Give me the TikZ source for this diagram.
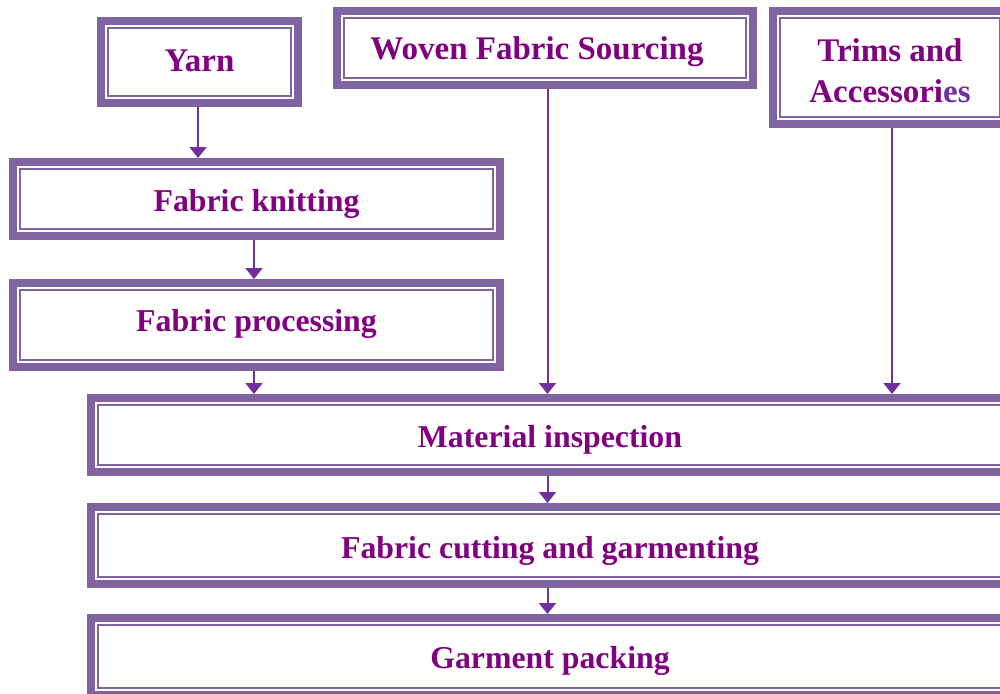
\documentclass[tikz,border=0pt]{standalone}
\usepackage{fontspec}
\setmainfont{Liberation Serif}
\usetikzlibrary{arrows.meta}
\definecolor{boxc}{HTML}{8064A2}
\definecolor{arrowc}{HTML}{7030A0}
\definecolor{textc}{HTML}{800080}
\tikzset{
  stagebox/.style={draw=boxc, line width=8pt, outer sep=4pt, inner sep=0pt, fill=white},
  boxtext/.style={align=center, text=textc, inner sep=0pt,
    font=\fontsize{31.8}{41}\selectfont\bfseries},
  toptext/.style={boxtext, font=\fontsize{33}{41}\selectfont\bfseries},
  innerline/.style={draw=boxc, line width=2pt},
  flow/.style={draw=arrowc, line width=2pt, -{Triangle[width=17pt,length=11pt]}}
}
\newcommand\stageframe[1]{%
  \draw[innerline] ([shift={(11.3,11.3)}]#1.north west) rectangle ([shift={(-11.3,-11.3)}]#1.south east);}
\begin{document}
\begin{tikzpicture}[x=1pt, y=-1pt]
\useasboundingbox (0,0) rectangle (1000,693);
\clip (0,0) rectangle (1000,693);

% source boxes
\node[stagebox, minimum width=197pt, minimum height=82pt,
  label={[toptext, yshift=1.5pt]center:Yarn}] (yarn) at (199.5,62) {};
\node[stagebox, minimum width=416pt, minimum height=74pt,
  label={[toptext, yshift=-4pt, xshift=-8pt]center:Woven Fabric Sourcing}] (woven) at (545,48) {};
\node[stagebox, minimum width=234pt, minimum height=113pt,
  label={[toptext, yshift=-3pt]center:Trims and\\Accessori\textcolor{arrowc}{es}}] (trims) at (890,67.5) {};

% knitted fabric route
\node[stagebox, minimum width=487pt, minimum height=74pt,
  label={[boxtext, yshift=-5pt]center:Fabric knitting}] (knit) at (256.5,199) {};
\node[stagebox, minimum width=487pt, minimum height=84pt,
  label={[boxtext, yshift=1pt]center:Fabric processing}] (proc) at (256.5,325) {};

% garment stages
\node[stagebox, minimum width=918pt, minimum height=74pt,
  label={[boxtext, yshift=-5pt]center:Material inspection}] (insp) at (550,435) {};
\node[stagebox, minimum width=918pt, minimum height=77pt,
  label={[boxtext, yshift=-5pt]center:Fabric cutting and garmenting}] (cut) at (550,545.5) {};
\node[stagebox, minimum width=918pt, minimum height=77pt,
  label={[boxtext, yshift=-4pt]center:Garment packing}] (pack) at (550,656.5) {};

\foreach \n in {yarn,woven,trims,knit,proc,insp,cut,pack}{\stageframe{\n}}

% connectors
\draw[flow] ([xshift=-1.5pt]yarn.south) -- ([xshift=-1.5pt]yarn.south |- knit.north);
\draw[flow] ([xshift=-2.5pt]knit.south) -- ([xshift=-2.5pt]knit.south |- proc.north);
\draw[flow] ([xshift=-2.5pt]proc.south) -- ([xshift=-2.5pt]proc.south |- insp.north);
\draw[flow] ([xshift=2.5pt]woven.south) -- ([xshift=2.5pt]woven.south |- insp.north);
\draw[flow] ([xshift=2pt]trims.south) -- ([xshift=2pt]trims.south |- insp.north);
\draw[flow] ([xshift=-2.5pt]insp.south) -- ([xshift=-2.5pt]insp.south |- cut.north);
\draw[flow] ([xshift=-2.5pt]cut.south) -- ([xshift=-2.5pt]cut.south |- pack.north);
\end{tikzpicture}
\end{document}
